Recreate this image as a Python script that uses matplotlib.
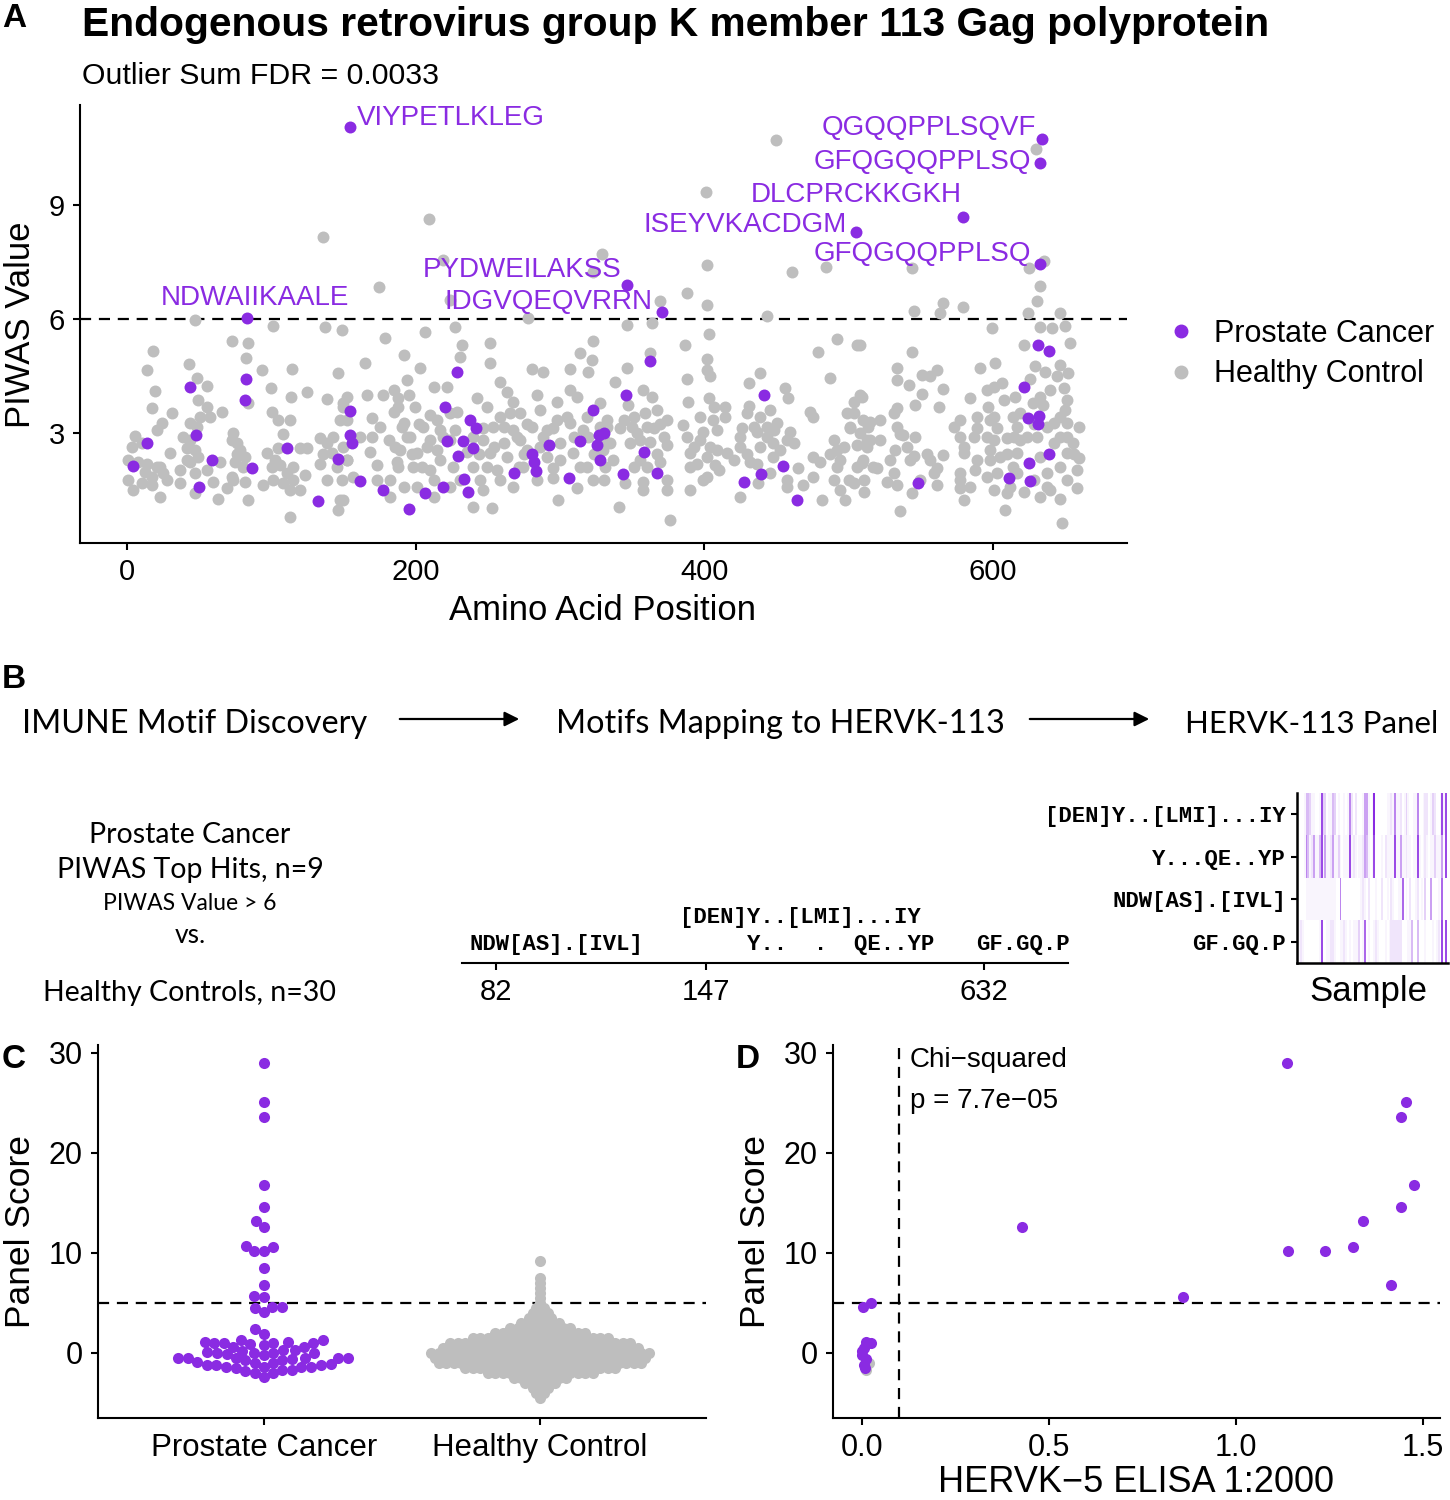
import numpy as np
import matplotlib
matplotlib.use("Agg")
import matplotlib.pyplot as plt
from matplotlib.colors import LinearSegmentedColormap
from matplotlib.lines import Line2D

plt.rcParams['font.family'] = ['Liberation Sans', 'DejaVu Sans']
PURPLE = "#8A2BE2"
GRAY = "#BEBEBE"

# ---------------- Panel A data ----------------
title = "Endogenous retrovirus group K member 113 Gag polyprotein"
subtitle = "Outlier Sum FDR = 0.0033"

hc_seg1 = np.array([[47.1,5.98],[101.3,5.82],[137.2,5.8],[148.7,5.7],[73,5.42],[84,5.38],[18.2,5.17],[82.2,4.97],[43.2,4.82],[13.6,4.66],
[93.7,4.66],[114.5,4.69],[48.7,4.44],[55.2,4.24],[19.4,4.12],[99.5,4.18],[124.5,4.09],[49.4,3.87],[113.6,3.94],[138.3,3.91],
[84,3.78],[17.1,3.65],[55.2,3.7],[66,3.56],[30.9,3.54],[100.2,3.56],[104.8,3.34],[112.9,3.34],[43.6,3.26],[50.5,3.43],
[57.5,3.42],[24,3.26],[20.5,3.08],[5.5,2.92],[73.6,3.0],[107.8,2.98],[133.7,2.86],[3.2,2.64],[10.1,2.73],[29.8,2.47],
[41.3,2.6],[47.1,2.56],[76,2.73],[78.3,2.56],[81.7,2.38],[74.8,2.25],[96.8,2.47],[102.5,2.29],[119.9,2.6],[124.5,2.6],
[138.3,2.73],[141.8,2.47],[133.7,2.2],[0.9,2.29],[13.6,2.2],[20.5,2.12],[25.1,1.94],[36.7,2.03],[43.6,2.25],[47.1,1.94],
[55.2,2.03],[64.4,2.25],[72.5,1.85],[81.7,1.72],[101.3,1.77],[108.3,1.68],[115.2,1.77],[123.3,1.9],[0.9,1.77],[4.4,1.5],
[10.1,1.68],[17.1,1.63],[22.9,1.33],[36.7,1.68],[47.1,1.42],[59.8,1.72],[63.3,1.28],[69,1.55],[84,1.24],[94.4,1.63],
[112.9,1.5],[119.9,1.5],[112.9,0.8],[147.5,1.24],[146.4,0.98],[148.7,1.77]])

hc_seg2 = np.array([[174.3,6.84],[227.4,5.8],[278.2,6.02],[206.6,5.67],[178.9,5.5],[232,5.32],[251.6,5.36],[323.2,5.42],[191.6,5.06],[230.8,5.01],
[251.6,4.84],[165,4.84],[203.1,4.71],[314,5.1],[322.1,4.92],[280.5,4.68],[288.6,4.62],[307.1,4.68],[319.8,4.62],[193.9,4.4],
[258.6,4.35],[212.4,4.21],[221.6,4.22],[263.2,4.09],[307.1,4.14],[177.7,4.0],[188.1,3.92],[195.1,4.0],[166.2,4.0],[242.4,3.92],
[249.3,3.7],[267.8,3.83],[284,4.0],[297.8,3.83],[311.7,3.96],[327.8,3.78],[150,3.78],[184.7,3.56],[199.7,3.7],[210.1,3.48],
[228.5,3.56],[258.6,3.43],[272.4,3.52],[286.3,3.61],[318.6,3.43],[152.3,3.34],[169.6,3.39],[175.4,3.17],[191.6,3.26],[205.4,3.17],
[217,3.08],[247,3.13],[253.9,3.17],[267.8,3.08],[280.5,3.17],[295.5,3.13],[307.1,3.26],[316.3,3.08],[327.8,3.17],[161.6,2.9],
[181.2,2.82],[196.2,2.9],[210.1,2.82],[223.9,2.82],[247,2.82],[260.9,2.73],[272.4,2.82],[288.6,2.9],[300.1,2.73],[319.8,2.9],
[168.5,2.51],[189.3,2.56],[200.8,2.47],[214.7,2.56],[235.5,2.51],[251.6,2.47],[263.2,2.38],[277,2.56],[290.9,2.38],[309.4,2.47],
[330.1,2.56],[152.3,2.29],[173.1,2.16],[187,2.25],[198.5,2.12],[210.1,2.03],[226.2,2.12],[240.1,2.12],[256.2,2.03],[274.7,2.12],
[295.5,2.07],[318.6,2.12],[331.3,2.12],[156.9,1.85],[182.3,1.77],[191.6,1.59],[212.4,1.77],[223.9,1.59],[247,1.5],[258.6,1.77],
[267.8,1.59],[284,1.77],[295.5,1.81],[311.7,1.55],[323.2,1.77],[150,1.24],[182.3,1.33],[240.1,1.06],[252.8,1.02],[299,1.24],
[200.8,1.59]])

hc_seg3 = np.array([[388,6.69],[401.8,6.37],[369.5,6.48],[443.4,6.08],[346.4,5.84],[363.7,5.89],[403,5.61],[386.8,5.32],[362.5,5.12],[401.8,4.94],
[479.2,5.14],[491.9,5.47],[505.7,5.32],[346.4,4.7],[401.8,4.66],[404.1,4.49],[338.3,4.35],[388,4.42],[430.7,4.31],[438.8,4.59],
[456.1,4.18],[458.4,3.92],[487.3,4.44],[357.9,4.14],[363.7,3.94],[347.5,3.74],[389.1,3.83],[403,3.92],[414.5,3.7],[430.7,3.71],
[445.7,3.61],[473.4,3.56],[503.5,3.83],[508.1,4.0],[351,3.43],[359.1,3.52],[367.2,3.61],[374.1,3.34],[397.2,3.43],[406.4,3.34],
[414.5,3.43],[429.5,3.52],[438.8,3.43],[450.3,3.26],[475.7,3.43],[498.8,3.52],[510.3,3.34],[332.5,3.17],[341.8,3.13],[353.3,3.0],
[364.9,3.13],[385.6,3.21],[399.5,3.04],[408.7,3.08],[426.1,3.13],[436.4,3.04],[443.4,3.17],[459.5,3.04],[489.6,2.82],[501.1,3.13],
[513.8,3.17],[334.8,2.73],[348.7,2.73],[362.5,2.77],[374.1,2.69],[390.3,2.47],[404.1,2.64],[415.7,2.47],[424.9,2.64],[448,2.73],
[461.9,2.73],[475.7,2.38],[491.9,2.56],[505.7,2.69],[337.1,2.29],[355.6,2.29],[369.5,2.25],[394.9,2.2],[407.6,2.16],[420.3,2.29],
[431.8,2.25],[448,2.38],[465.3,2.07],[480.3,2.25],[494.2,2.29],[510.3,2.29],[330.2,1.77],[345.2,1.68],[357.9,1.72],[374.1,1.5],
[390.3,1.5],[399.5,1.77],[409.9,2.03],[424.9,1.33],[437.6,1.68],[457.2,1.59],[468.8,1.63],[481.5,1.24],[489.6,1.77],[497.7,1.24],
[503.5,1.68],[340.6,1.06],[376.4,0.71],[475.7,1.85]])

hc_seg4 = np.array([[632.8,6.87],[630.5,6.48],[565.8,6.42],[545.1,6.22],[563.1,6.17],[579.2,6.31],[624.7,6.15],[646.7,6.17],[599.3,5.76],[632.8,5.8],
[640.9,5.76],[650.1,5.82],[621.3,5.32],[653.6,5.38],[508.1,5.32],[543.9,5.14],[601.6,4.84],[591.2,4.71],[629.3,4.77],[646.7,4.79],
[533.5,4.71],[561.2,4.66],[550.8,4.53],[556.6,4.49],[636.3,4.62],[644.4,4.49],[652.4,4.57],[625.9,4.42],[649,4.18],[533.5,4.4],
[541.6,4.26],[565.8,4.15],[600.5,4.22],[606.3,4.31],[550.8,4.04],[584.3,3.92],[615.5,3.96],[509.3,3.96],[546.2,3.74],[562.4,3.68],
[533.5,3.65],[597,3.7],[628.2,3.78],[635.1,3.74],[650.1,3.61],[588.9,3.43],[600.5,3.43],[614.3,3.43],[515,3.3],[533.5,3.17],
[572.8,3.17],[588.9,3.13],[602.8,3.13],[616.6,3.17],[642.1,3.26],[651.3,3.26],[659.4,3.17],[508.1,3.0],[521.9,2.83],[538.1,2.95],
[546.2,2.9],[577.4,2.9],[595.9,2.9],[609.7,2.86],[619,2.82],[630.5,2.9],[646.7,2.9],[655.9,2.73],[512.7,2.64],[532.4,2.56],
[545.1,2.4],[556.6,2.29],[565.8,2.42],[579.7,2.47],[598.2,2.56],[605.1,2.38],[616.6,2.47],[632.8,2.38],[651.3,2.47],[659.4,2.34],
[509.3,2.21],[519.6,2.07],[531.2,1.94],[542.7,2.29],[561.2,2.07],[577.4,1.94],[587.8,2.03],[595.9,1.85],[614.3,2.12],[637.4,1.94],
[658.2,2.03],[526.6,1.72],[533.5,1.63],[561.2,1.63],[577.4,1.55],[584.3,1.59],[600.5,1.5],[609.7,1.42],[621.3,1.46],[632.8,1.33],
[639.8,1.5],[646.7,1.28],[658.2,1.55],[510.4,1.46],[543.9,1.42],[579.7,1.24],[608.6,0.98],[535.4,0.96],[647.8,0.63]])

hc_seg5 = np.array([[7.8,2.25],[12.5,1.98],[17.1,1.85],[22.9,2.11],[27.5,1.76],[39.0,2.9],[43.7,2.82],[48.3,3.17],[41.3,2.29],[49.4,2.38],
[72.5,2.82],[76.0,2.46],[80.6,2.11],[73.7,1.76],[100.3,2.11],[106.1,2.16],[110.7,1.94],[115.3,2.11],[104.9,2.6],[136.1,2.46],
[143.0,2.9],[150.0,2.64],[145.3,2.11],[138.4,1.76],[152.3,2.29],[147.6,3.34],[150.0,3.69],[152.3,3.96],[146.5,4.57],
[184.7,4.13],[188.1,3.69],[190.5,3.17],[193.9,2.9],[185.8,2.64],[197.4,2.46],[188.1,2.11],[202.0,3.25],[207.8,2.64],[204.3,2.11],
[214.7,3.34],[219.3,2.9],[217.0,2.29],[224.0,3.52],[227.4,3.08],[240.1,2.9],[243.6,2.46],[249.4,2.11],[254.0,2.64],[260.9,3.17],
[265.6,3.52],[270.2,2.9],[274.8,2.46],[271.3,2.11],[277.1,3.25],[286.4,2.64],[291.0,3.08],[300.2,2.29],[304.8,3.43],[309.5,2.9],
[314.1,2.11],[323.3,2.46],[330.3,2.82],[332.6,3.34],[297.9,3.34],[244.8,1.76],[230.9,1.76],[212.4,1.32],[173.1,1.76],[169.7,2.9],
[344.1,3.34],[349.9,3.17],[355.6,2.82],[360.3,3.17],[369.5,3.25],[371.8,2.9],[367.2,2.46],[360.3,2.11],[351.0,2.11],[374.1,1.76],
[357.9,1.5],[388.0,2.9],[392.6,2.64],[397.2,2.82],[401.8,2.38],[390.3,2.11],[401.8,1.85],[408.8,2.55],[406.5,3.69],[425.0,2.9],
[429.6,2.46],[434.2,3.17],[438.8,2.64],[443.4,2.9],[448.1,3.08],[452.7,2.55],[457.3,2.82],[436.5,2.2],[445.8,1.94],[457.3,1.76],
[487.3,2.46],[492.0,2.11],[496.6,2.64],[501.2,3.17],[505.8,2.11],[500.1,1.76],[510.5,1.76],[503.5,3.52],[512.8,2.82],[494.3,1.5],
[595.9,4.13],[598.2,3.34],[600.5,2.82],[598.2,2.29],[602.8,1.94],[607.5,3.87],[609.8,2.46],[614.4,2.9],[616.7,1.94],[612.1,1.59],
[619.0,3.52],[623.6,2.9],[628.3,3.25],[637.5,3.17],[642.1,2.73],[646.8,3.43],[651.4,2.9],[656.0,2.46],[646.8,2.11],[651.4,1.76],
[637.5,1.59],[628.3,1.76],[632.9,3.96],[639.8,4.13],[651.4,3.87],[531.2,3.52],[535.8,2.99],[540.5,2.64],[554.3,2.46],[558.9,1.94],
[549.7,1.76],[528.9,2.29],[515.0,2.82],[517.3,2.11],[522.0,3.34],[577.4,3.34],[579.7,2.64],[577.4,1.76],[589.0,2.29],[586.7,2.9]])

hc_high = np.array([[449.9,10.71],[630.2,10.47],[401.4,9.34],[209.4,8.63],[135.9,8.16],[329.3,7.71],[402.1,7.42],[461,7.24],
[635.2,7.53],[484.1,7.38],[544,7.33],[624.8,7.33],[218.7,7.55],[223.5,6.5],[322.7,7.23]])

pc_points = np.array([[82.2,4.42],[43.6,4.21],[81.8,3.87],[47.8,2.94],[14.1,2.73],[59.1,2.28],[4.4,2.14],[86.9,2.07],[49.9,1.57],
[111.1,2.6],[146,2.32],[132.6,1.22],[154.6,3.58],[154.2,2.95],[156.2,2.73],[161.6,1.75],[177.7,1.5],[195.1,1.0],[206.6,1.43],
[218.8,1.59],[220.7,3.7],[228.5,4.62],[237.8,3.35],[241.7,3.14],[221.6,2.8],[232.7,2.79],[239.6,2.6],[229.7,2.4],[233.6,1.79],
[236.6,1.46],[268.5,1.94],[280.5,2.45],[281.7,2.23],[283.3,2.01],[292.6,2.69],[306.6,1.81],[313.6,2.79],[322.9,3.61],[326.8,2.95],
[330.3,3.0],[325.6,2.69],[327.9,2.28],[362.5,4.9],[345.7,4.0],[358.6,2.51],[343.6,1.92],[367.6,1.94],[441.1,3.99],[454.3,2.14],
[439.4,1.92],[427.3,1.72],[464.2,1.24],[548.5,1.68],[631.2,5.32],[639.1,5.16],[621.3,4.2],[624.7,3.41],[632.1,3.46],[631.2,3.23],
[639.1,2.45],[625.2,2.22],[611.3,1.81],[625.9,1.75]])

top_hit_seq = ["VIYPETLKLEG", "QGQQPPLSQVF", "GFQGQQPPLSQ", "DLCPRCKKGKH", "ISEYVKACDGM",
               "GFQGQQPPLSQ", "PYDWEILAKSS", "IDGVQEQVRRN", "NDWAIIKAALE"]
top_hit_pos = [154.6, 634.3, 632.9, 579.3, 505.4, 632.4, 346.8, 370.7, 83.0]
top_hit_val = [11.05, 10.74, 10.11, 8.68, 8.30, 7.45, 6.89, 6.18, 6.03]
piwas_threshold = 6

# ---------------- Panel B data ----------------
flow_steps = ["IMUNE Motif Discovery", "Motifs Mapping to HERVK-113", "HERVK-113 Panel"]
map_ticks = ["82", "147", "632"]
heat_motifs = ["[DEN]Y..[LMI]...IY", "Y...QE..YP", "NDW[AS].[IVL]", "GF.GQ.P"]
heat_row1 = [0,0,0,1,4,4,3,1,1,0,0,1,8,3,3,0,1,1,4,3,0,1,0,0,1,0,1,6,2,0,2,0,0,0,1,5,5,1,0,1,
             9,0,0,0,0,0,0,1,1,2,1,6,1,1,2,0,1,3,1,0,0,1,1,6,0,0,1,2,2,0,1,3,2,0,0,1,8,1,8,0]
heat_row2 = [0,0,0,1,6,4,1,2,5,1,1,4,8,1,5,1,1,2,5,1,1,3,1,0,1,1,1,8,1,2,1,0,1,1,2,5,4,1,0,1,
             8,0,0,0,1,0,2,1,1,1,1,8,1,1,5,1,1,2,1,1,0,1,1,8,1,0,1,2,1,0,1,1,3,1,1,1,5,0,8,0]
heat_row3 = [0,0,0,0,1,1,1,1,1,1,1,1,1,1,1,1,1,1,1,1,0,0,6,0,0,0,0,0,0,0,0,0,0,1,2,1,0,2,0,0,
             0,1,0,0,2,0,0,1,0,2,1,0,0,1,1,7,0,1,0,2,0,0,1,2,0,1,0,3,0,0,5,0,0,0,1,0,7,0,0,0]
heat_row4 = [1,2,1,0,0,0,0,0,0,0,0,1,8,0,0,1,1,2,2,1,0,0,1,1,2,1,0,1,0,1,1,1,3,0,1,7,0,1,0,0,
             1,2,1,0,0,0,1,0,1,2,2,2,2,2,2,0,0,0,1,1,4,0,0,4,0,0,0,1,0,0,0,1,0,1,2,0,8,0,8,0]

# ---------------- Panel C data ----------------
groups = ["Prostate Cancer", "Healthy Control"]
pc_scores = [28.97, 25.07, 23.6, 16.8, 14.6, 13.2, 12.6, 10.6, 10.7, 10.2, 10.2, 8.5, 6.8, 5.6, 5.7,
             4.6, 4.5, 4.6, 4.1, 2.4, 1.9,
             -0.03, -1.13, -0.53, 0.63, -0.7, -1.53, 1.13, -0.03, -1.2, -1.77, 0.97, 0.13, -1.03, -0.63,
             -1.43, -2.03, 0.8, 1.3, 0.3, -0.7, -1.37, -1.2, -0.2, 1.03, -0.53, -2.37, -0.03, 1.3, 0.87,
             -1.37, -0.53, -0.53, -1.7, 1.03, 0.23, -1.03, -2.03, -0.03, 0.97, 0.3, -0.87, -1.7, 1.13,
             0.63, -0.47, -1.37, -0.53, -1.2, -0.13]
hc_score_levels = [-4.5, -4.0, -3.5, -3.0, -2.5, -2.0, -1.5, -1.0, -0.5, 0.0, 0.5, 1.0, 1.5, 2.0,
                   2.5, 3.0, 3.5, 4.0, 4.5, 5.0, 5.5, 6.0, 6.5, 7.0, 7.5, 9.2]
hc_score_counts = [1, 2, 3, 5, 8, 15, 21, 28, 29, 30, 27, 25, 19, 13, 9, 6, 4, 3, 2, 1, 1, 1, 1, 1, 1, 1]
panel_threshold = 5

# ---------------- Panel D data ----------------
elisa_pc_x = [1.136, 1.455, 1.44, 1.477, 1.44, 1.339, 0.429, 1.313, 1.139, 1.238, 1.414, 0.857,
              0.024, 0.002, 0.012, 0.024, 0.0, 0.005, 0.01, 0.0, 0.005, 0.008]
elisa_pc_y = [28.97, 25.07, 23.6, 16.8, 14.6, 13.2, 12.6, 10.65, 10.2, 10.2, 6.8, 5.6,
              5.03, 4.6, 1.13, 0.97, 0.2, 0.5, -0.55, -0.2, -1.2, -1.5]
elisa_hc_x = [0.02, 0.01]
elisa_hc_y = [-1.0, -1.7]
elisa_cutoff = 0.1
chi_text = ["Chi\u2212squared", "p = 7.7e\u221205"]

# ---------------- Figure ----------------
W, H = 1450, 1500
fig = plt.figure(figsize=(14.5, 15), dpi=100)

def box(l, t, r, b):
    return [l / W, 1 - b / H, (r - l) / W, (b - t) / H]

def style(ax, lw=1.5):
    for s in ["top", "right"]:
        ax.spines[s].set_visible(False)
    for s in ["left", "bottom"]:
        ax.spines[s].set_linewidth(lw)
    ax.tick_params(width=lw, length=5, color="black", labelcolor="black")

# Panel A
axA = fig.add_axes(box(80, 105, 1127, 543))
style(axA)
hc_all = np.vstack([hc_seg1, hc_seg2, hc_seg3, hc_seg4, hc_seg5, hc_high])
axA.scatter(hc_all[:, 0], hc_all[:, 1], s=74, color=GRAY, linewidths=0, zorder=2)
axA.scatter(pc_points[:, 0], pc_points[:, 1], s=74, color=PURPLE, linewidths=0, zorder=3)
axA.scatter(top_hit_pos, top_hit_val, s=74, color=PURPLE, linewidths=0, zorder=3)
axA.axhline(piwas_threshold, color="black", lw=1.6, ls=(0, (5, 3.5)), zorder=1)
axA.set_xlim(-32.6, 693)
axA.set_ylim(0.11, 11.63)
axA.set_xticks([0, 200, 400, 600])
axA.set_yticks([3, 6, 9])
axA.tick_params(labelsize=21, pad=6)
label_offsets = [(7, 9), (-6, 11), (-9, 1), (-1, 22), (-10, 7), (-8, 10), (-6, 15), (-9, 10), (8, 20)]
label_ha = ["left", "right", "right", "right", "right", "right", "right", "right", "center"]
for seq, x, y, off, ha in zip(top_hit_seq, top_hit_pos, top_hit_val, label_offsets, label_ha):
    axA.annotate(seq, (x, y), xytext=off, textcoords="offset pixels", ha=ha, va="center",
                 color=PURPLE, fontsize=20, zorder=4)
axA.set_xlabel("Amino Acid Position", fontsize=25)
axA.xaxis.label.set_va("center")
axA.xaxis.set_label_coords(0.4995, -0.155)
axA.set_ylabel("PIWAS Value", fontsize=25)
axA.yaxis.label.set_va("center")
axA.yaxis.set_label_coords(-0.0573, 0.498)
handles = [Line2D([], [], marker="o", ls="", color=PURPLE, markersize=9),
           Line2D([], [], marker="o", ls="", color=GRAY, markersize=9)]
fig.legend(handles, ["Prostate Cancer", "Healthy Control"], loc="center left",
           bbox_to_anchor=(1150 / W, 1 - 354 / H), frameon=False, fontsize=22,
           handlelength=1.0, handletextpad=0.6, labelspacing=0.35, borderpad=0)

# Panel B: mapping axis
axM = fig.add_axes(box(462, 880, 1068, 963))
for s in ["top", "right", "left"]:
    axM.spines[s].set_visible(False)
axM.spines["bottom"].set_linewidth(1.5)
axM.set_xlim(0, 1)
axM.set_ylim(0, 1)
axM.set_yticks([])
map_tick_layout = [(496 - 462) / 606, (706 - 462) / 606, (984 - 462) / 606]
axM.set_xticks(map_tick_layout)
axM.set_xticklabels(map_ticks, fontsize=21)
axM.tick_params(axis="x", width=1.5, length=5, pad=6)
axM.patch.set_alpha(0)

# Panel B heatmap
axH = fig.add_axes(box(1297, 793, 1448, 963))
for s in ["top", "right"]:
    axH.spines[s].set_visible(False)
for s in ["left", "bottom"]:
    axH.spines[s].set_linewidth(1.8)
cmap = LinearSegmentedColormap.from_list("wp", ["#FFFFFF", PURPLE], gamma=1.4)
heat = np.array([heat_row1, heat_row2, heat_row3, heat_row4], dtype=float)
ncol = heat.shape[1]
axH.imshow(heat, aspect="auto", cmap=cmap, vmin=0, vmax=9, interpolation="nearest",
           extent=(0.5, ncol + 0.5, 4.5, 0.5))
axH.set_xlim(0.0, ncol + 0.5)
axH.set_ylim(4.5, 0.5)
axH.set_xticks([])
axH.set_yticks([1, 2, 3, 4])
axH.set_yticklabels(heat_motifs, family=["Liberation Mono", "DejaVu Sans Mono"],
                    fontsize=16, fontweight="bold")
axH.tick_params(axis="y", width=1.5, length=4, pad=4)
axH.set_xlabel("Sample", fontsize=25)
axH.xaxis.label.set_va("center")
axH.xaxis.set_label_coords(0.47, -0.17)

# Panel C
axC = fig.add_axes(box(98, 1045, 706, 1418))
style(axC)
axC.set_xlim(0.4, 2.6)
axC.set_ylim(-6.5, 30.8)
ppu_x = 608 / 2.2
ppu_y = 373 / 37.3

def swarm_offsets(vals, d):
    vals = np.asarray(vals, float)
    order = np.argsort(vals)
    xs = np.zeros(len(vals))
    placed = []
    for i in order:
        y = vals[i] * ppu_y
        cands = [0.0]
        intervals = []
        for (px, py) in placed:
            dy = y - py
            if abs(dy) < d:
                h = np.sqrt(d * d - dy * dy)
                intervals.append((px - h, px + h))
                cands += [px - h, px + h]
        best = 0.0
        for c in sorted(cands, key=abs):
            if all(not (a + 1e-6 < c < b - 1e-6) for a, b in intervals):
                best = c
                break
        xs[i] = best
        placed.append((best, y))
    return xs / ppu_x

pc_off = swarm_offsets(pc_scores, 9.8)
axC.scatter(1 + pc_off, pc_scores, s=64, color=PURPLE, linewidths=0, zorder=3)
hx, hy = [], []
spacing = 7.5 / ppu_x
for lvl, n in zip(hc_score_levels, hc_score_counts):
    offs = (np.arange(n) - (n - 1) / 2) * spacing
    hx.extend(2 + offs)
    hy.extend([lvl] * n)
axC.scatter(hx, hy, s=64, color=GRAY, linewidths=0, zorder=3)
axC.axhline(panel_threshold, color="black", lw=1.6, ls=(0, (5, 3.5)), zorder=1)
axC.set_xticks([1, 2])
axC.set_xticklabels(groups, fontsize=22.5)
axC.set_yticks([0, 10, 20, 30])
axC.tick_params(axis="y", labelsize=22, pad=6)
axC.tick_params(axis="x", pad=6)
axC.set_ylabel("Panel Score", fontsize=25.5)
axC.yaxis.label.set_va("center")
axC.yaxis.set_label_coords(-0.128, 0.499)

# Panel D
axD = fig.add_axes(box(833, 1045, 1440, 1418))
style(axD)
axD.set_xlim(-0.0775, 1.5455)
axD.set_ylim(-6.5, 30.8)
axD.scatter(elisa_hc_x, elisa_hc_y, s=64, color=GRAY, linewidths=0, zorder=2)
axD.scatter(elisa_pc_x, elisa_pc_y, s=64, color=PURPLE, linewidths=0, zorder=3)
axD.axhline(panel_threshold, color="black", lw=1.6, ls=(0, (5, 3.5)), zorder=1)
axD.axvline(elisa_cutoff, color="black", lw=1.6, ls=(0, (5, 3.5)), zorder=1)
axD.set_xticks([0.0, 0.5, 1.0, 1.5])
axD.set_xticklabels(["0.0", "0.5", "1.0", "1.5"])
axD.set_yticks([0, 10, 20, 30])
axD.tick_params(labelsize=22, pad=6)
axD.set_ylabel("Panel Score", fontsize=25.5)
axD.yaxis.label.set_va("center")
axD.yaxis.set_label_coords(-0.1285, 0.499)
axD.set_xlabel("HERVK\u22125 ELISA 1:2000", fontsize=26)
axD.xaxis.label.set_va("center")
axD.xaxis.set_label_coords(0.499, -0.172)

# Overlay for free text
ov = fig.add_axes([0, 0, 1, 1], zorder=10)
ov.set_xlim(0, W)
ov.set_ylim(H, 0)
ov.axis("off")
ov.patch.set_alpha(0)

ov.text(82, 36, title, fontsize=29.3, fontweight="bold", va="baseline")
ov.text(82, 84, subtitle, fontsize=21.8, va="baseline")
for lab, x, y in [("A", 2, 27), ("B", 2, 688), ("C", 2, 1068), ("D", 736, 1068)]:
    ov.text(x, y, lab, fontsize=24, fontweight="bold", va="baseline")

lato = ["Lato", "DejaVu Sans"]
ov.text(22, 733, flow_steps[0], fontsize=23.3, family=lato, va="baseline")
ov.text(556, 733, flow_steps[1], fontsize=23.3, family=lato, va="baseline")
ov.text(1185, 733, flow_steps[2], fontsize=22.5, family=lato, va="baseline")
for x0, x1 in [(397, 522), (1027, 1152)]:
    ov.annotate("", xy=(x1, 719), xytext=(x0, 719),
                arrowprops=dict(arrowstyle="-|>", lw=1.6, color="black", mutation_scale=22))

left_block = [("Prostate Cancer", 843, 20.5), ("PIWAS Top Hits, n=9", 878, 20.5),
              ("PIWAS Value > 6", 910, 16.5), ("vs.", 943, 19), ("Healthy Controls, n=30", 1001, 20.5)]
for txt, y, fs in left_block:
    ov.text(190, y, txt, fontsize=fs, family=lato, ha="center", va="baseline")

mono = ["Liberation Mono", "DejaVu Sans Mono"]
ov.text(680, 923, heat_motifs[0], fontsize=16, family=mono, fontweight="bold", va="baseline")
ov.text(470, 950, heat_motifs[2], fontsize=16, family=mono, fontweight="bold", va="baseline")
ov.text(747, 950, "Y..  .  QE..YP", fontsize=16, family=mono, fontweight="bold", va="baseline")
ov.text(976, 950, heat_motifs[3], fontsize=16, family=mono, fontweight="bold", va="baseline")

ov.text(910, 1067, chi_text[0], fontsize=20, va="baseline")
ov.text(910, 1108, chi_text[1], fontsize=20, va="baseline")

fig.savefig("out.png", dpi=100)
